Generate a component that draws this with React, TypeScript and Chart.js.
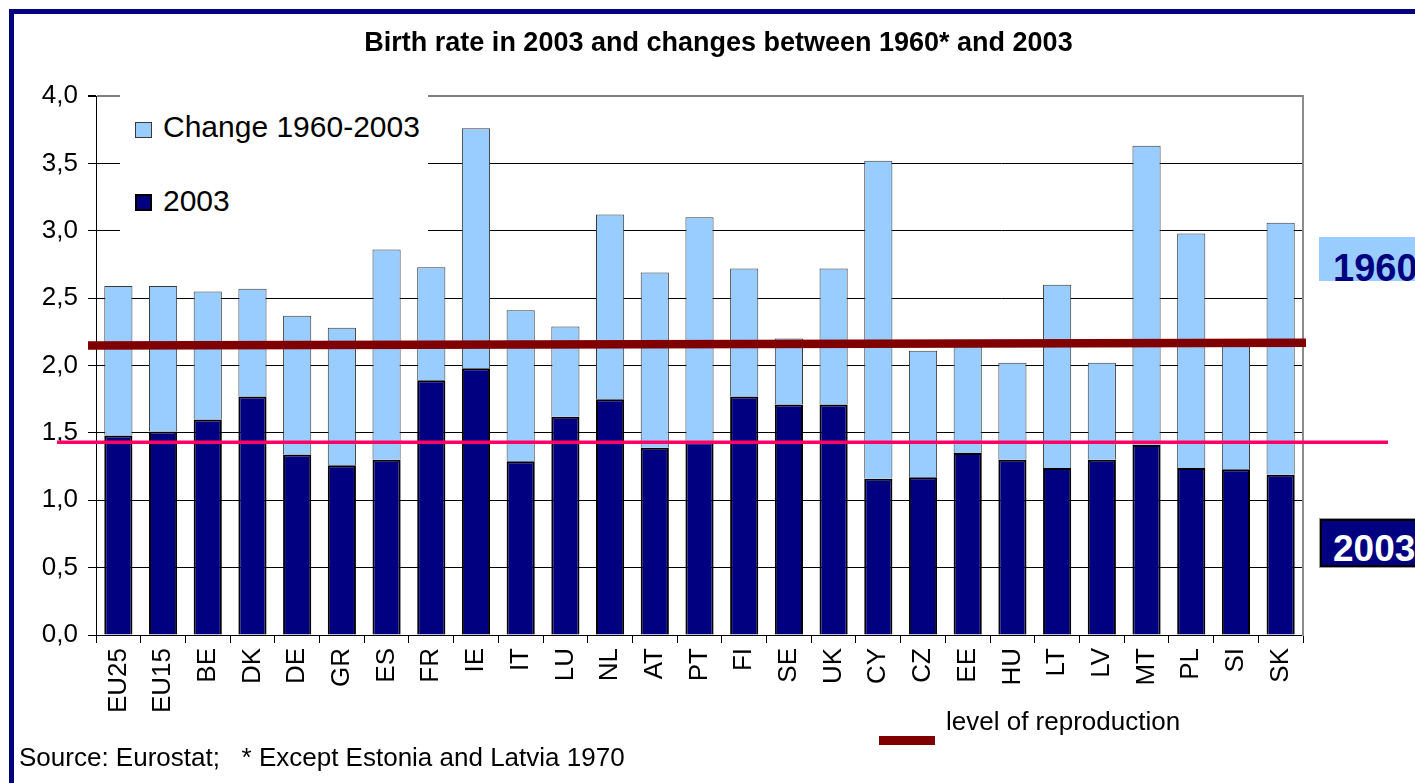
import React, { useEffect, useRef } from "react";
import { Chart, registerables } from "chart.js";

Chart.register(...registerables);

const FONT = '"Liberation Sans", Arial, Helvetica, sans-serif';

const categories = [
  "EU25", "EU15", "BE", "DK", "DE", "GR", "ES", "FR", "IE", "IT", "LU", "NL", "AT", "PT",
  "FI", "SE", "UK", "CY", "CZ", "EE", "HU", "LT", "LV", "MT", "PL", "SI", "SK",
];
const rate2003 = [
  1.48, 1.51, 1.6, 1.77, 1.34, 1.26, 1.3, 1.89, 1.98, 1.29, 1.62, 1.75, 1.39, 1.43,
  1.77, 1.71, 1.71, 1.16, 1.17, 1.35, 1.3, 1.24, 1.3, 1.41, 1.24, 1.23, 1.19,
];
const rate1960 = [
  2.59, 2.59, 2.55, 2.57, 2.37, 2.28, 2.86, 2.73, 3.76, 2.41, 2.29, 3.12, 2.69, 3.1,
  2.72, 2.2, 2.72, 3.52, 2.11, 2.16, 2.02, 2.6, 2.02, 3.63, 2.98, 2.16, 3.06,
];
const yMin = 0;
const yMax = 4;
const yStep = 0.5;
const reproductionLevel = [2.148, 2.168]; // start / end of the dark red line
const pinkLevel = 1.43;

const seriesNames = ["2003", "Change 1960-2003"];
const titleText = "Birth rate in 2003 and changes between 1960* and 2003";
const sourceText = "Source: Eurostat;   * Except Estonia and Latvia 1970";

const refLinesPlugin = {
  id: "refLines",
  afterDatasetsDraw(chart: any) {
    const { ctx, chartArea, scales } = chart;
    const y = scales.y;
    ctx.save();
    ctx.lineCap = "butt";
    ctx.strokeStyle = "#FF0066";
    ctx.lineWidth = 3.5;
    const yp = y.getPixelForValue(pinkLevel);
    ctx.beginPath();
    ctx.moveTo(chartArea.left - 39, yp);
    ctx.lineTo(chartArea.right + 85, yp);
    ctx.stroke();
    ctx.strokeStyle = "#800000";
    ctx.lineWidth = 8.5;
    ctx.beginPath();
    ctx.moveTo(chartArea.left - 8, y.getPixelForValue(reproductionLevel[0]));
    ctx.lineTo(chartArea.right + 3, y.getPixelForValue(reproductionLevel[1]));
    ctx.stroke();
    ctx.restore();
  },
};

export default function App() {
  const canvasRef = useRef<HTMLCanvasElement | null>(null);

  useEffect(() => {
    document.body.style.overflow = "hidden";
    const canvas = canvasRef.current;
    if (!canvas) return;
    const change = rate1960.map((v, i) => +(v - rate2003[i]).toFixed(2));
    const chart = new Chart(canvas, {
      type: "bar",
      data: {
        labels: categories,
        datasets: [
          {
            label: seriesNames[0],
            data: rate2003,
            backgroundColor: "#000080",
            borderColor: "#000000",
            borderWidth: 2,
            stack: "s",
          },
          {
            label: seriesNames[1],
            data: change,
            backgroundColor: "#99CCFF",
            borderColor: "#3a3a3a",
            borderWidth: 1,
            stack: "s",
          },
        ],
      },
      options: {
        responsive: false,
        animation: false,
        devicePixelRatio: 1,
        datasets: {
          bar: { barPercentage: 0.63, categoryPercentage: 1.0 },
        },
        layout: { padding: { left: 22, right: 0, top: 20, bottom: 0 } },
        plugins: {
          legend: { display: false },
          tooltip: { enabled: false },
          title: {
            display: true,
            text: titleText,
            color: "#000000",
            font: { family: FONT, size: 27, weight: "bold", lineHeight: 1.2 },
            padding: { top: 7, bottom: 36.6 },
          },
        },
        scales: {
          x: {
            stacked: true,
            grid: {
              display: true,
              offset: true,
              drawOnChartArea: false,
              drawTicks: true,
              tickLength: 8,
              color: "#000000",
            },
            border: { display: true, color: "#000000", width: 1 },
            ticks: {
              autoSkip: false,
              maxRotation: 90,
              minRotation: 90,
              padding: 5,
              color: "#000000",
              font: { family: FONT, size: 26 },
            },
            afterFit(scale: any) {
              scale.height = 148;
            },
          },
          y: {
            stacked: true,
            min: yMin,
            max: yMax,
            grid: {
              color: (c: any) => (c.tick && c.tick.value === yMax ? "#808080" : "#000000"),
              lineWidth: (c: any) => (c.tick && c.tick.value === yMax ? 2 : 1),
              tickLength: 8,
              tickColor: "#000000",
            },
            border: { display: true, color: "#000000", width: 1 },
            ticks: {
              stepSize: yStep,
              padding: 10,
              color: "#000000",
              font: { family: FONT, size: 26 },
              callback: (v: any) => Number(v).toFixed(1).replace(".", ","),
            },
            afterFit(scale: any) {
              scale.width = 74;
            },
          },
          y2: {
            type: "linear",
            position: "right",
            display: true,
            grid: { display: false, drawTicks: false },
            ticks: { display: false },
            border: { display: true, color: "#8c8c8c", width: 2 },
            afterFit(scale: any) {
              scale.width = 112;
            },
          },
        },
      },
      plugins: [refLinesPlugin],
    } as any);
    return () => chart.destroy();
  }, []);

  const text = (extra: React.CSSProperties): React.CSSProperties => ({
    position: "absolute",
    fontFamily: FONT,
    color: "#000000",
    whiteSpace: "pre",
    lineHeight: 1,
    ...extra,
  });

  return (
    <div
      style={{
        position: "fixed",
        left: 0,
        top: 0,
        width: 1415,
        height: 783,
        overflow: "hidden",
        background: "#ffffff",
      }}
    >
      <div
        style={{
          position: "absolute",
          left: 9,
          top: 9,
          width: 1600,
          height: 1000,
          borderTop: "5px solid #000080",
          borderLeft: "5px solid #000080",
        }}
      />
      <canvas
        ref={canvasRef}
        width={1415}
        height={783}
        style={{ position: "absolute", left: 0, top: 0, width: 1415, height: 783, display: "block" }}
      />
      <div
        style={{
          position: "absolute",
          left: 120,
          top: 95,
          width: 308,
          height: 152,
          background: "#ffffff",
        }}
      >
        <div
          style={{
            position: "absolute",
            left: 15,
            top: 27,
            width: 15,
            height: 14,
            background: "#99CCFF",
            border: "1px solid #3a3a3a",
          }}
        />
        <div style={text({ left: 43, top: 17, fontSize: 30 })}>{seriesNames[1]}</div>
        <div
          style={{
            position: "absolute",
            left: 15,
            top: 99,
            width: 13,
            height: 13,
            background: "#000080",
            border: "2px solid #000000",
          }}
        />
        <div style={text({ left: 43, top: 91, fontSize: 30 })}>{seriesNames[0]}</div>
      </div>
      <div
        style={{
          position: "absolute",
          left: 1319,
          top: 237,
          width: 120,
          height: 44,
          background: "#99CCFF",
          overflow: "hidden",
        }}
      >
        <div style={text({ left: 14, top: 12, fontSize: 38, fontWeight: "bold", color: "#000080" })}>1960</div>
      </div>
      <div
        style={{
          position: "absolute",
          left: 1320,
          top: 519,
          width: 120,
          height: 44,
          background: "#000080",
          border: "2px solid #000000",
          outline: "1px solid #9a9a9a",
          overflow: "hidden",
        }}
      >
        <div style={text({ left: 11, top: 9, fontSize: 37, fontWeight: "bold", color: "#ffffff" })}>2003</div>
      </div>
      <div style={text({ left: 19, top: 744, fontSize: 26 })}>{sourceText}</div>
      <div
        style={{
          position: "absolute",
          left: 879,
          top: 736,
          width: 56,
          height: 9,
          background: "#800000",
        }}
      />
      <div style={text({ left: 946, top: 708, fontSize: 26 })}>level of reproduction</div>
    </div>
  );
}
